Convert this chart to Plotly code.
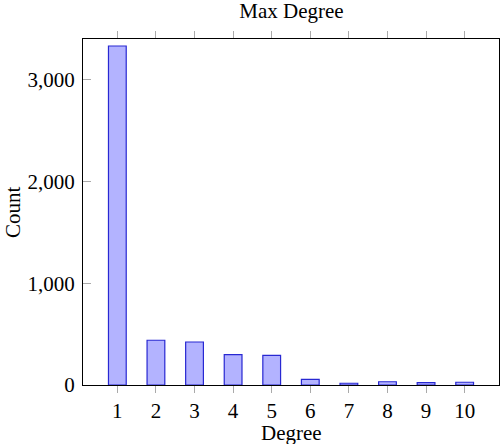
import plotly.graph_objects as go

degrees = [1, 2, 3, 4, 5, 6, 7, 8, 9, 10]
counts = [3333, 440, 423, 298, 292, 56, 17, 32, 23, 27]

y_ticks = [0, 1000, 2000, 3000]
y_labels = ["0", "1,000", "2,000", "3,000"]

font_family = "Liberation Serif"

fig = go.Figure()

fig.add_trace(go.Bar(
    x=degrees,
    y=counts,
    width=0.46,
    marker=dict(color="rgb(179,179,255)", line=dict(color="rgb(40,40,210)", width=1.2)),
))

fig.update_layout(
    width=500,
    height=444,
    margin=dict(l=83, r=1, t=39, b=59),
    plot_bgcolor="white",
    paper_bgcolor="white",
    font=dict(family=font_family, size=21, color="black"),
    showlegend=False,
    title=dict(
        text="Max Degree",
        x=0.583,
        xanchor="center",
        y=1 - 11 / 444,
        yanchor="middle",
        yref="container",
        font=dict(size=21),
    ),
)

# axis titles placed by hand, like the pgfplots layout
fig.add_annotation(text="Degree", xref="paper", yref="paper",
                   x=0.5, y=-48 / 346, xanchor="center", yanchor="middle",
                   showarrow=False)
fig.add_annotation(text="Count", xref="paper", yref="paper",
                   x=-70 / 416, y=0.5, xanchor="center", yanchor="middle",
                   textangle=-90, showarrow=False)

fig.update_xaxes(
    range=[0.11, 10.89],
    tickvals=degrees,
    ticks="outside",
    ticklen=7,
    tickcolor="#aaaaaa",
    showline=True,
    linecolor="black",
    linewidth=1,
    mirror="ticks",
    showgrid=False,
    zeroline=False,
    automargin=False,
)

fig.update_yaxes(
    range=[0, 3402],
    tickvals=y_ticks,
    ticktext=y_labels,
    ticks="inside",
    ticklen=8,
    tickcolor="#aaaaaa",
    ticklabelstandoff=3,
    showline=True,
    linecolor="black",
    linewidth=1,
    mirror=True,
    showgrid=False,
    zeroline=False,
    automargin=False,
)

# the page body has an 8px default margin, drop it so the figure sits at 0,0
fig.write_html("out.html", config={"displayModeBar": False},
               post_script="document.body.style.margin = '0';")
